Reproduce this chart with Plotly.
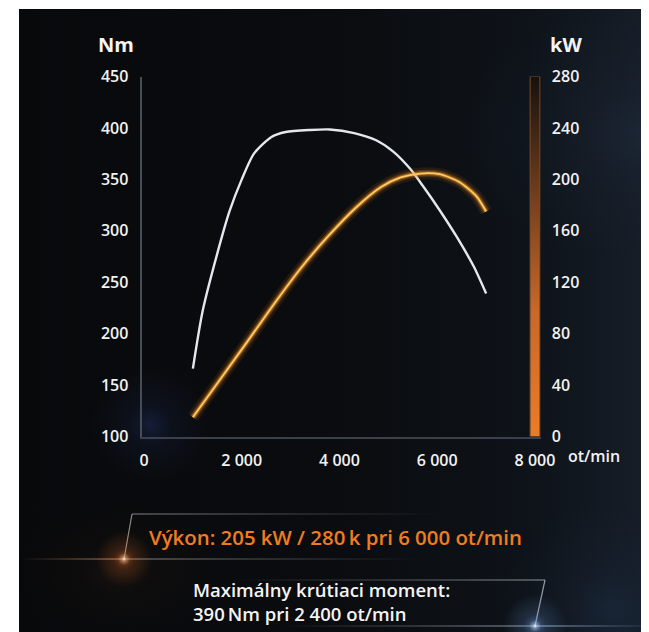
import plotly.graph_objects as go

W, H = 649, 632

# ---------------- data ----------------
rpm_torque = [1000, 1200, 1500, 1750, 2000, 2250, 2600, 2900, 3400, 3800, 4300,
              4750, 5100, 5450, 5700, 6050, 6400, 6750, 7000]
torque_nm = [166, 222, 278, 319, 350, 375, 391, 396, 398, 398.5, 395,
             388, 377, 360, 344, 320, 294, 265, 239]

rpm_power = [1000, 1550, 2100, 2650, 3200, 3750, 4350, 4850, 5250, 5650, 6050,
             6450, 6800, 7000]
power_kw = [15, 44, 73, 102.5, 130.5, 155, 178.5, 194, 201.5, 204.5, 204,
            198, 187, 175]

x_ticks = [0, 2000, 4000, 6000, 8000]
x_tick_labels = ["0", "2 000", "4 000", "6 000", "8 000"]
nm_ticks = [100, 150, 200, 250, 300, 350, 400, 450]
kw_ticks = [0, 40, 80, 120, 160, 200, 240, 280]

NM_RANGE = [100, 450]
KW_RANGE = [0, 280]
RPM_MAX = 8000

label_power = "Výkon: 205 kW / 280\u2009k pri 6 000 ot/min"
label_torque = "Maximálny krútiaci moment:<br>390\u2009Nm pri 2 400 ot/min"

# ---------------- layout geometry ----------------
# the page is shown with the browser's default 8 px body margin, so
# screen positions are converted to figure positions with OFF
OFF = 8
def fx(x): return x - OFF
def fy(y): return y - OFF

PX0 = fx(144.0)            # pixel of rpm 0
PX_PER_RPM = 0.048875
X_RANGE = [-50, 8120]
x_dom = [(PX0 + X_RANGE[0] * PX_PER_RPM) / W, (PX0 + X_RANGE[1] * PX_PER_RPM) / W]
Y_TOP, Y_BOT = fy(76.5), fy(436.5)
y_dom = [(H - Y_BOT) / H, (H - Y_TOP) / H]

FONT = "Open Sans"
fig = go.Figure()

# ---------------- background (pixel subplot, screen coords) ----------------
def bg_poly(xs, ys, grad_type, scale):
    fig.add_trace(go.Scatter(
        x=[fx(v) for v in xs], y=[fy(v) for v in ys], xaxis="x", yaxis="y",
        mode="lines", fill="toself",
        line=dict(width=0, color="rgba(0,0,0,0)"),
        fillgradient=dict(type=grad_type, colorscale=scale),
        hoverinfo="skip", showlegend=False))

def glow_box(x0, y0, x1, y1, rgb, a):
    bg_poly([x0, x1, x1, x0, x0], [y0, y0, y1, y1, y0], "radial",
            [[0, f"rgba({rgb},{a})"], [0.35, f"rgba({rgb},{a*0.35})"], [1, f"rgba({rgb},0)"]])

def glow(cx, cy, r, rgb, a):
    glow_box(cx - r, cy - r, cx + r, cy + r, rgb, a)

def hline(x0, x1, y, c_left, c_right, th=0.6):
    bg_poly([x0, x1, x1, x0, x0], [y - th, y - th, y + th, y + th, y - th], "horizontal",
            [[0, c_left], [1, c_right]])

def seg(x0, y0, x1, y1, col, w=1.2):
    fig.add_trace(go.Scatter(x=[fx(x0), fx(x1)], y=[fy(y0), fy(y1)], xaxis="x", yaxis="y",
                             mode="lines", line=dict(color=col, width=w),
                             hoverinfo="skip", showlegend=False))

# base dark panel with horizontal gradient
bg_poly([19, W + OFF, W + OFF, 19, 19], [9, 9, H + OFF, H + OFF, 9], "horizontal",
        [[0, "#08090b"], [0.5, "#0a0c0f"], [0.8, "#0e1319"], [1, "#161e29"]])
glow_box(450, 9, 850, 260, "36,50,70", 0.45)
glow(150, 425, 60, "40,60,125", 0.38)
glow_box(19, 500, 220, 640, "55,34,18", 0.3)
glow(610, 610, 110, "36,60,95", 0.3)

# box 1 (power)
hline(132, 440, 514, "rgba(180,180,180,0.7)", "rgba(180,180,180,0)")
seg(132, 514, 124, 559, "rgba(200,190,180,0.7)")
hline(20, 124, 559, "rgba(220,150,90,0)", "rgba(230,160,100,0.6)", 0.7)
hline(124, 420, 559, "rgba(200,185,170,0.7)", "rgba(200,200,200,0)")
glow(124, 559, 28, "255,120,40", 0.5)
glow(124, 559, 6, "255,235,210", 1.0)

# box 2 (torque)
hline(230, 545, 580, "rgba(190,190,190,0)", "rgba(200,205,215,0.7)")
seg(545, 580, 535, 626, "rgba(200,210,225,0.7)")
hline(280, 535, 626, "rgba(190,200,215,0)", "rgba(210,220,235,0.7)")
hline(535, 660, 626, "rgba(170,200,240,0.6)", "rgba(150,190,240,0)", 0.7)
glow(535, 626, 32, "120,170,240", 0.5)
glow(535, 626, 6, "235,245,255", 1.0)

# ---------------- main chart ----------------
SMOOTH = 0.7
for w, col in [(12, "rgba(240,130,20,0.11)"), (7, "rgba(245,145,30,0.22)"),
               (4, "rgba(250,160,40,0.45)")]:
    fig.add_trace(go.Scatter(x=rpm_power, y=power_kw, xaxis="x2", yaxis="y3", mode="lines",
                             line=dict(color=col, width=w, shape="spline", smoothing=SMOOTH),
                             hoverinfo="skip", showlegend=False))
fig.add_trace(go.Scatter(x=rpm_power, y=power_kw, xaxis="x2", yaxis="y3", mode="lines",
                         name="Výkon", line=dict(color="#ffca66", width=1.8, shape="spline",
                                                 smoothing=SMOOTH),
                         showlegend=False))

fig.add_trace(go.Scatter(x=rpm_torque, y=torque_nm, xaxis="x2", yaxis="y2", mode="lines",
                         name="Krútiaci moment",
                         line=dict(color="#e4e8ee", width=2.4, shape="spline", smoothing=SMOOTH),
                         showlegend=False))

# kW scale bar (gradient) at the right end of the rpm axis
bw = 100
fig.add_trace(go.Scatter(x=[RPM_MAX - bw, RPM_MAX + bw, RPM_MAX + bw, RPM_MAX - bw, RPM_MAX - bw],
                         y=[KW_RANGE[0], KW_RANGE[0], KW_RANGE[1], KW_RANGE[1], KW_RANGE[0]],
                         xaxis="x2", yaxis="y3", mode="lines", fill="toself",
                         line=dict(color="#7a4c28", width=1),
                         fillgradient=dict(type="vertical",
                                           colorscale=[[0, "#ec7c28"], [0.35, "#c8682a"],
                                                       [0.7, "#6a3a1c"], [1, "#15110e"]]),
                         hoverinfo="skip", showlegend=False))

tickfont = dict(family=FONT, size=16, color="#f2f2f2", weight=600)

def ann(text, x, y, font, xanchor="center", align="center"):
    return dict(text=text, x=fx(x), y=fy(y), xref="x", yref="y", xanchor=xanchor,
                align=align, showarrow=False, font=font)

fig.update_layout(
    width=W, height=H,
    margin=dict(l=0, r=0, t=0, b=0, pad=0),
    paper_bgcolor="#ffffff",
    plot_bgcolor="rgba(0,0,0,0)",
    xaxis=dict(domain=[0, 1], range=[0, W], visible=False, fixedrange=True, automargin=False),
    yaxis=dict(domain=[0, 1], range=[H, 0], visible=False, fixedrange=True, automargin=False),
    xaxis2=dict(domain=x_dom, range=X_RANGE, anchor="y2", tickvals=x_ticks,
                ticktext=x_tick_labels, showgrid=False, zeroline=False, automargin=False,
                showline=True, linecolor="#3a414c", linewidth=2, layer="below traces",
                ticks="", ticklabelstandoff=8, tickfont=tickfont),
    yaxis2=dict(domain=y_dom, range=NM_RANGE, anchor="x2", tickvals=nm_ticks,
                showgrid=False, zeroline=False, showline=True, linecolor="#474d57",
                linewidth=2, layer="below traces", ticks="", ticklabelstandoff=8,
                tickfont=tickfont, automargin=False),
    yaxis3=dict(domain=y_dom, range=KW_RANGE, anchor="x2", overlaying="y2", side="right",
                tickvals=kw_ticks, showgrid=False, zeroline=False, showline=False,
                ticks="", ticklabelstandoff=10, tickfont=tickfont, automargin=False),
    annotations=[
        ann("Nm", 116, 44, dict(family=FONT, size=20, color="#f4f4f4", weight=700)),
        ann("kW", 566, 44, dict(family=FONT, size=20, color="#f4f4f4", weight=700)),
        ann("ot/min", 594, 456, tickfont),
        ann(label_power, 147, 537, dict(family=FONT, size=20.4, color="#f07c20", weight=600),
            "left"),
        ann(label_torque, 191, 601, dict(family=FONT, size=18.5, color="#f4f4f4", weight=600),
            "left", "left"),
    ],
)

fig.write_html("out.html", config={"displayModeBar": False})
